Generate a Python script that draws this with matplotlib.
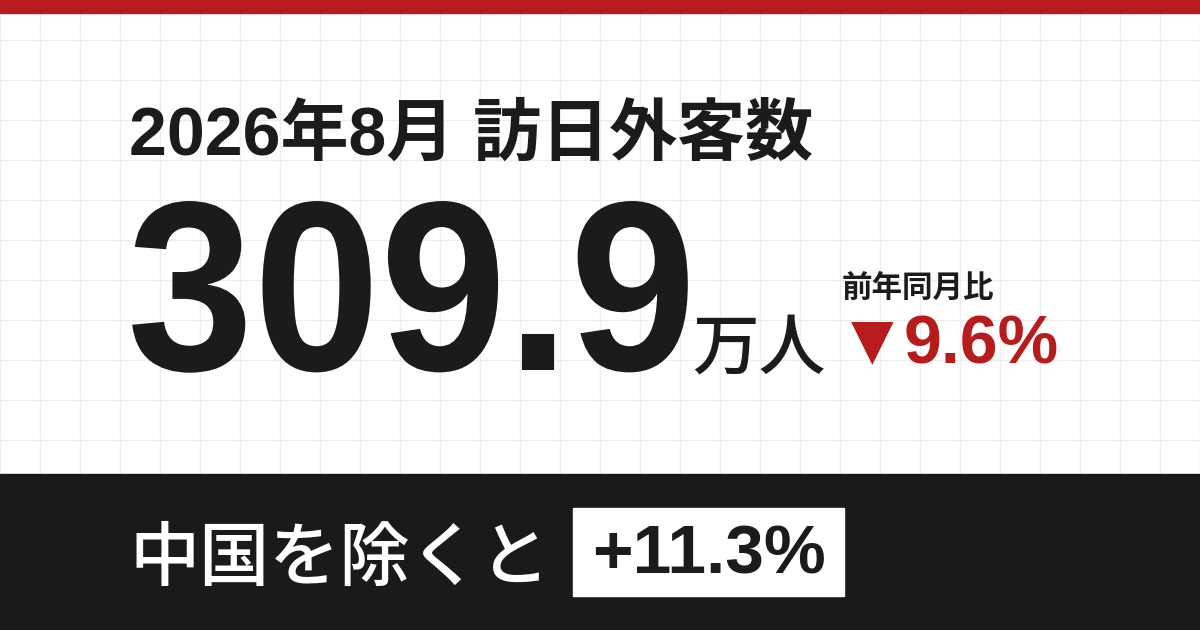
import matplotlib.pyplot as plt
from matplotlib.font_manager import FontProperties
from matplotlib.patches import PathPatch
from matplotlib.textpath import TextPath
from matplotlib.transforms import Affine2D

# card content
title = "2026年8月 訪日外客数"
visitors = "309.9"
unit = "万人"
yoy_label = "前年同月比"
yoy_change = "9.6%"
ex_label = "中国を除くと"
ex_change = "+11.3%"

RED = "#b71c1c"
INK = "#1b1b1b"
LAT = ["Liberation Sans", "Noto Sans CJK JP"]
CJK = ["Noto Sans CJK JP", "DejaVu Sans"]

fig = plt.figure(figsize=(12, 6.3), dpi=100)
ax = fig.add_axes([0, 0, 1, 1])
ax.set_xlim(0, 1200)
ax.set_ylim(630, 0)
ax.set_xticks(range(0, 1201, 40))
ax.set_yticks(range(0, 631, 40))
ax.grid(True, color="#eeeeee", linewidth=1)
ax.tick_params(length=0, labelbottom=False, labelleft=False)
for s in ax.spines.values():
    s.set_visible(False)

# top red strip and dark band
ax.add_patch(plt.Rectangle((0, 0), 1200, 13, color=RED, zorder=3))
ax.add_patch(plt.Rectangle((0, 474), 1200, 156, color="#1a1a1a", zorder=3))
ax.add_patch(plt.Rectangle((573, 508), 271, 88, color="white", zorder=4))

ax.text(129, 155, title, family=LAT, fontweight="bold", fontsize=49,
        color=INK, va="baseline", zorder=5)

# big number, drawn a bit condensed like the reference
tp = TextPath((0, 0), visitors, size=242,
              prop=FontProperties(family="Liberation Sans", weight="bold"))
tr = Affine2D().scale(0.94, -1).translate(127, 370) + ax.transData
ax.add_patch(PathPatch(tp, transform=tr, facecolor=INK, edgecolor="none",
                       zorder=5))

ax.text(692, 369, unit, family=CJK, fontweight="medium", fontsize=48,
        color=INK, va="baseline", zorder=5)
ax.text(842, 297, yoy_label, family=CJK, fontweight="bold", fontsize=22,
        color=INK, va="baseline", zorder=5)
ax.text(851, 358, "▼", family=["DejaVu Sans"], fontsize=40,
        color=RED, va="baseline", zorder=5)
ax.text(904, 364, yoy_change, family=LAT, fontweight="bold", fontsize=49,
        color=RED, va="baseline", zorder=5)
ax.text(129, 580, ex_label, family=CJK, fontweight="medium", fontsize=50.5,
        color="white", va="baseline", zorder=5)
ax.text(709, 573, ex_change, family=LAT, fontweight="bold", fontsize=50,
        color=INK, va="baseline", ha="center", zorder=5)

fig.savefig("out.png", dpi=100)
